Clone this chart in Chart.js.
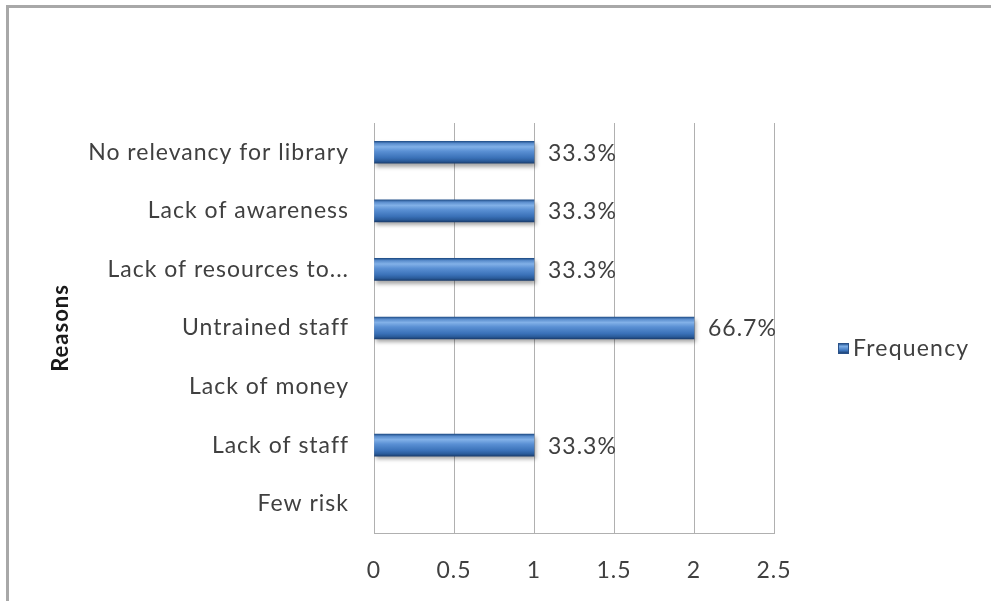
<!DOCTYPE html>
<html>
<head>
<meta charset="utf-8">
<script src="https://cdn.jsdelivr.net/npm/chart.js@4/dist/chart.umd.min.js"></script>
<style>
  html, body { margin: 0; padding: 0; background: #fff; }
  #wrap { position: relative; width: 991px; height: 601px; overflow: hidden; }
  #frame { position: absolute; left: 6px; top: 5px; width: 1000px; height: 593px;
           border-top: 3px solid #a8a8a8; border-left: 3px solid #a8a8a8; border-bottom: 1px solid #e4e4e4; }
  canvas { position: absolute; left: 0; top: 0; }
  #legend { position: absolute; left: 838px; top: 333px; font-family: Lato, "Open Sans", sans-serif;
            font-size: 23px; letter-spacing: 1.2px; color: #404040; display: flex; align-items: center; }
  #legend .sw { width: 9px; height: 9px; margin-right: 4px; margin-top: 2px;
                background: linear-gradient(#2a5c9a, #7eaee6 25%, #3f78c0 70%, #1e4377); border: 1px solid #2a5188; }
</style>
</head>
<body>
<div id="wrap">
  <div id="frame"></div>
  <canvas id="c" width="991" height="601"></canvas>
  <div id="legend"><span class="sw"></span><span>Frequency</span></div>
</div>
<script>
const categories = ["No relevancy for library", "Lack of awareness", "Lack of resources to...", "Untrained staff", "Lack of money", "Lack of staff", "Few risk"];
const frequency = [1, 1, 1, 2, 0, 1, 0];
const percentLabels = ["33.3%", "33.3%", "33.3%", "66.7%", "", "33.3%", ""];
const xTicks = [0, 0.5, 1, 1.5, 2, 2.5];
const xTickLabels = ["0", "0.5", "1", "1.5", "2", "2.5"];
const seriesName = "Frequency";
const axisTitle = "Reasons";

const FONT = 'Lato, "Open Sans", sans-serif';
const TEXT = '#404040';

function barGradient(ctx) {
  const chart = ctx.chart;
  const y = chart.scales && chart.scales.y;
  if (ctx.type === 'data' && !ctx.raw) return 'rgba(0,0,0,0)';
  if (!chart.chartArea || !y || ctx.type !== 'data') return '#4a82c6';
  const cy = y.getPixelForValue(ctx.dataIndex);
  const h = 22;
  const g = chart.ctx.createLinearGradient(0, cy - h / 2, 0, cy + h / 2);
  g.addColorStop(0, '#22508a');
  g.addColorStop(0.1, '#5a8dcd');
  g.addColorStop(0.25, '#82b1e8');
  g.addColorStop(0.45, '#5a90d4');
  g.addColorStop(0.75, '#3a71b8');
  g.addColorStop(0.9, '#2a5b9a');
  g.addColorStop(1, '#1a3d6e');
  return g;
}

const spacingPlugin = {
  id: 'letterSpacing',
  beforeDraw(chart) { chart.ctx.letterSpacing = '1px'; }
};

const shadowPlugin = {
  id: 'barShadow',
  beforeDatasetsDraw(chart) {
    const c = chart.ctx;
    c.save();
    c.shadowColor = 'rgba(0,0,0,0.35)';
    c.shadowBlur = 4;
    c.shadowOffsetX = 2;
    c.shadowOffsetY = 3;
  },
  afterDatasetsDraw(chart) {
    chart.ctx.restore();
    const c = chart.ctx;
    const meta = chart.getDatasetMeta(0);
    c.save();
    c.font = '23px ' + FONT;
    c.letterSpacing = '1px';
    c.fillStyle = TEXT;
    c.textBaseline = 'middle';
    c.textAlign = 'left';
    meta.data.forEach((bar, i) => {
      const txt = percentLabels[i];
      if (!txt) return;
      c.fillText(txt, bar.x + 14, bar.y + 1);
    });
    c.restore();
  }
};

new Chart(document.getElementById('c'), {
  type: 'bar',
  data: {
    labels: categories,
    datasets: [{
      label: seriesName,
      data: frequency,
      backgroundColor: barGradient,
      borderWidth: 0,
      barThickness: 22
    }]
  },
  options: {
    indexAxis: 'y',
    responsive: false,
    animation: false,
    layout: { padding: { left: 0, top: 123, right: 217, bottom: 0 } },
    plugins: { legend: { display: false }, tooltip: { enabled: false } },
    scales: {
      x: {
        min: 0, max: 2.5,
        afterFit(s) { s.height = 68; },
        afterBuildTicks(s) { s.ticks = xTicks.map(v => ({ value: v })); },
        grid: { color: '#b0b0b0', lineWidth: 1, drawTicks: false },
        border: { display: true, color: '#b0b0b0', width: 1 },
        ticks: {
          font: { family: FONT, size: 23 }, color: TEXT, padding: 24, maxRotation: 0,
          callback: (v, i) => xTickLabels[i]
        }
      },
      y: {
        afterFit(s) { s.width = 374; },
        grid: { display: false },
        border: { display: true, color: '#b0b0b0', width: 1 },
        ticks: { font: { family: FONT, size: 23 }, color: TEXT, padding: 17, autoSkip: false },
        title: { display: true, text: axisTitle, font: { family: FONT, size: 22, weight: 'bold' }, color: '#1a1a1a', padding: { top: 48, bottom: 0 } }
      }
    }
  },
  plugins: [spacingPlugin, shadowPlugin]
});
</script>
</body>
</html>
